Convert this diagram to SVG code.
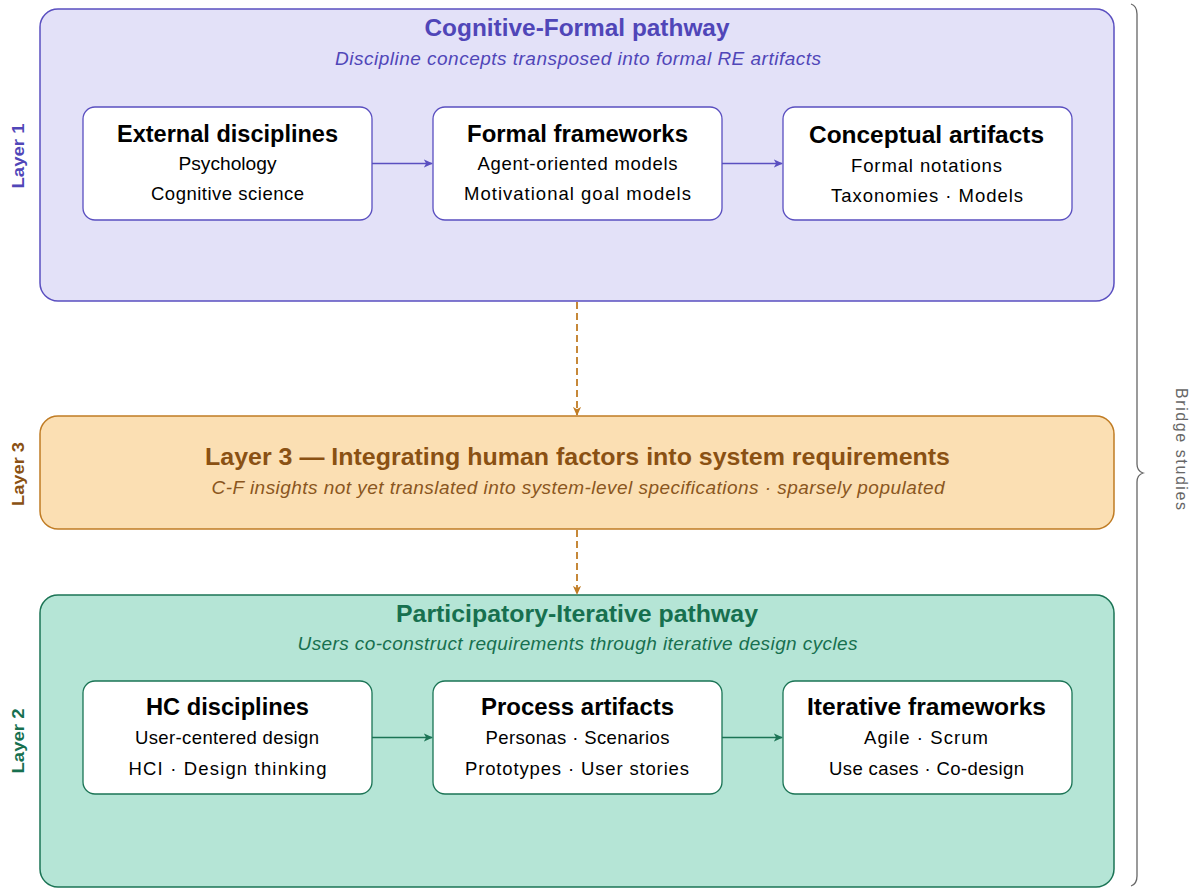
<svg xmlns="http://www.w3.org/2000/svg" width="1201" height="888" viewBox="0 0 1201 888">
<style>
text{font-family:"Liberation Sans",Arial,sans-serif;text-anchor:middle}
.pt{font-size:24px;font-weight:bold}
.ps{font-size:19px;font-style:italic}
.nt{font-size:23px;font-weight:bold;fill:#000}
.nl{font-size:18.5px;fill:#000}
.lab{font-size:17px;font-weight:bold}
.node{fill:#fff;stroke-width:1.3}
.purple .node{stroke:#5a4fc0}
.green .node{stroke:#1b7455}
</style>
<defs>
<marker id="ap" viewBox="0 0 10 10" refX="9" refY="5" markerWidth="9" markerHeight="9" orient="auto" markerUnits="userSpaceOnUse"><path d="M0,0.5 L10,5 L0,9.5 L2.5,5 Z" fill="#5a4fc0"/></marker>
<marker id="ag" viewBox="0 0 10 10" refX="9" refY="5" markerWidth="9" markerHeight="9" orient="auto" markerUnits="userSpaceOnUse"><path d="M0,0.5 L10,5 L0,9.5 L2.5,5 Z" fill="#1b7455"/></marker>
<marker id="ao" viewBox="0 0 10 10" refX="9" refY="5" markerWidth="9" markerHeight="9" orient="auto" markerUnits="userSpaceOnUse"><path d="M0,0.5 L10,5 L0,9.5 L2.5,5 Z" fill="#c07c24"/></marker>
</defs>
<rect width="1201" height="888" fill="#fff"/>

<g id="layer1" class="purple">
<rect x="40" y="9" width="1074" height="292" rx="18" fill="#e3e1f8" stroke="#5a4fc0" stroke-width="1.5"/>
<text class="pt" x="577" y="36" fill="#5046b8" textLength="305" lengthAdjust="spacingAndGlyphs">Cognitive-Formal pathway</text>
<text class="ps" x="578" y="65" fill="#5046b8" textLength="486" lengthAdjust="spacing">Discipline concepts transposed into formal RE artifacts</text>
<text class="lab" transform="translate(24,156) rotate(-90)" fill="#5046b8" textLength="65" lengthAdjust="spacingAndGlyphs">Layer 1</text>
</g>
<g id="n-external" class="purple">
<rect class="node" x="83" y="107" width="289" height="113" rx="12"/>
<text class="nt" x="227.5" y="142" textLength="221" lengthAdjust="spacingAndGlyphs">External disciplines</text>
<text class="nl" x="227.5" y="170" textLength="98" lengthAdjust="spacingAndGlyphs">Psychology</text>
<text class="nl" x="227.5" y="200" textLength="153" lengthAdjust="spacing">Cognitive science</text>
</g>
<g id="n-formal" class="purple">
<rect class="node" x="433" y="107" width="289" height="113" rx="12"/>
<text class="nt" x="577.5" y="142" textLength="221" lengthAdjust="spacingAndGlyphs">Formal frameworks</text>
<text class="nl" x="577.5" y="170" textLength="200" lengthAdjust="spacing">Agent-oriented models</text>
<text class="nl" x="577.5" y="200" textLength="227" lengthAdjust="spacing">Motivational goal models</text>
</g>
<g id="n-conceptual" class="purple">
<rect class="node" x="783" y="107" width="289" height="113" rx="12"/>
<text class="nt" x="926.5" y="143" textLength="235" lengthAdjust="spacingAndGlyphs">Conceptual artifacts</text>
<text class="nl" x="926.5" y="172" textLength="151" lengthAdjust="spacing">Formal notations</text>
<text class="nl" x="927" y="202" textLength="192" lengthAdjust="spacing">Taxonomies · Models</text>
</g>

<g id="layer3">
<rect x="40" y="416" width="1074" height="113" rx="18" fill="#fbdfb3" stroke="#c07c24" stroke-width="1.5"/>
<text class="pt" x="577.5" y="465" fill="#8a5113" textLength="745" lengthAdjust="spacingAndGlyphs">Layer 3 — Integrating human factors into system requirements</text>
<text class="ps" x="578" y="494" fill="#8a5620" textLength="733" lengthAdjust="spacing">C-F insights not yet translated into system-level specifications · sparsely populated</text>
<text class="lab" transform="translate(24,474) rotate(-90)" fill="#8a5113" textLength="64" lengthAdjust="spacingAndGlyphs">Layer 3</text>
</g>

<g id="layer2" class="green">
<rect x="40" y="595" width="1074" height="292" rx="18" fill="#b5e5d6" stroke="#1b7455" stroke-width="1.5"/>
<text class="pt" x="577" y="622" fill="#17704f" textLength="362" lengthAdjust="spacingAndGlyphs">Participatory-Iterative pathway</text>
<text class="ps" x="577.5" y="650" fill="#17704f" textLength="560" lengthAdjust="spacing">Users co-construct requirements through iterative design cycles</text>
<text class="lab" transform="translate(24,741) rotate(-90)" fill="#17704f" textLength="65" lengthAdjust="spacingAndGlyphs">Layer 2</text>
</g>
<g id="n-hc" class="green">
<rect class="node" x="83" y="681" width="289" height="113" rx="12"/>
<text class="nt" x="227.5" y="715" textLength="163" lengthAdjust="spacingAndGlyphs">HC disciplines</text>
<text class="nl" x="227" y="744" textLength="184" lengthAdjust="spacing">User-centered design</text>
<text class="nl" x="227.5" y="775" textLength="198" lengthAdjust="spacing">HCI · Design thinking</text>
</g>
<g id="n-process" class="green">
<rect class="node" x="433" y="681" width="289" height="113" rx="12"/>
<text class="nt" x="577.5" y="715" textLength="193" lengthAdjust="spacingAndGlyphs">Process artifacts</text>
<text class="nl" x="577.5" y="744" textLength="184" lengthAdjust="spacing">Personas · Scenarios</text>
<text class="nl" x="577" y="775" textLength="224" lengthAdjust="spacing">Prototypes · User stories</text>
</g>
<g id="n-iterative" class="green">
<rect class="node" x="783" y="681" width="289" height="113" rx="12"/>
<text class="nt" x="926.5" y="715" textLength="239" lengthAdjust="spacingAndGlyphs">Iterative frameworks</text>
<text class="nl" x="926" y="744" textLength="124" lengthAdjust="spacing">Agile · Scrum</text>
<text class="nl" x="926.5" y="775" textLength="195" lengthAdjust="spacing">Use cases · Co-design</text>
</g>

<g id="connectors" fill="none" stroke-width="1.5">
<line x1="372" y1="163.5" x2="432" y2="163.5" stroke="#5a4fc0" marker-end="url(#ap)"/>
<line x1="722" y1="163.5" x2="782" y2="163.5" stroke="#5a4fc0" marker-end="url(#ap)"/>
<line x1="372" y1="737.5" x2="432" y2="737.5" stroke="#1b7455" marker-end="url(#ag)"/>
<line x1="722" y1="737.5" x2="782" y2="737.5" stroke="#1b7455" marker-end="url(#ag)"/>
<line x1="577" y1="302" x2="577" y2="415" stroke="#c07c24" stroke-width="1.8" stroke-dasharray="7,4" marker-end="url(#ao)"/>
<line x1="577" y1="530" x2="577" y2="594" stroke="#c07c24" stroke-width="1.8" stroke-dasharray="7,4" marker-end="url(#ao)"/>
</g>

<g id="bridge">
<path d="M1131,4 Q1137,6 1137,14 L1137,464 Q1137,471 1143,473 Q1137,475 1137,482 L1137,876 Q1137,884 1131,886" fill="none" stroke="#666" stroke-width="1.3"/>
<text transform="translate(1176,449) rotate(90)" font-size="16" fill="#666" textLength="122" lengthAdjust="spacing">Bridge studies</text>
</g>
</svg>
